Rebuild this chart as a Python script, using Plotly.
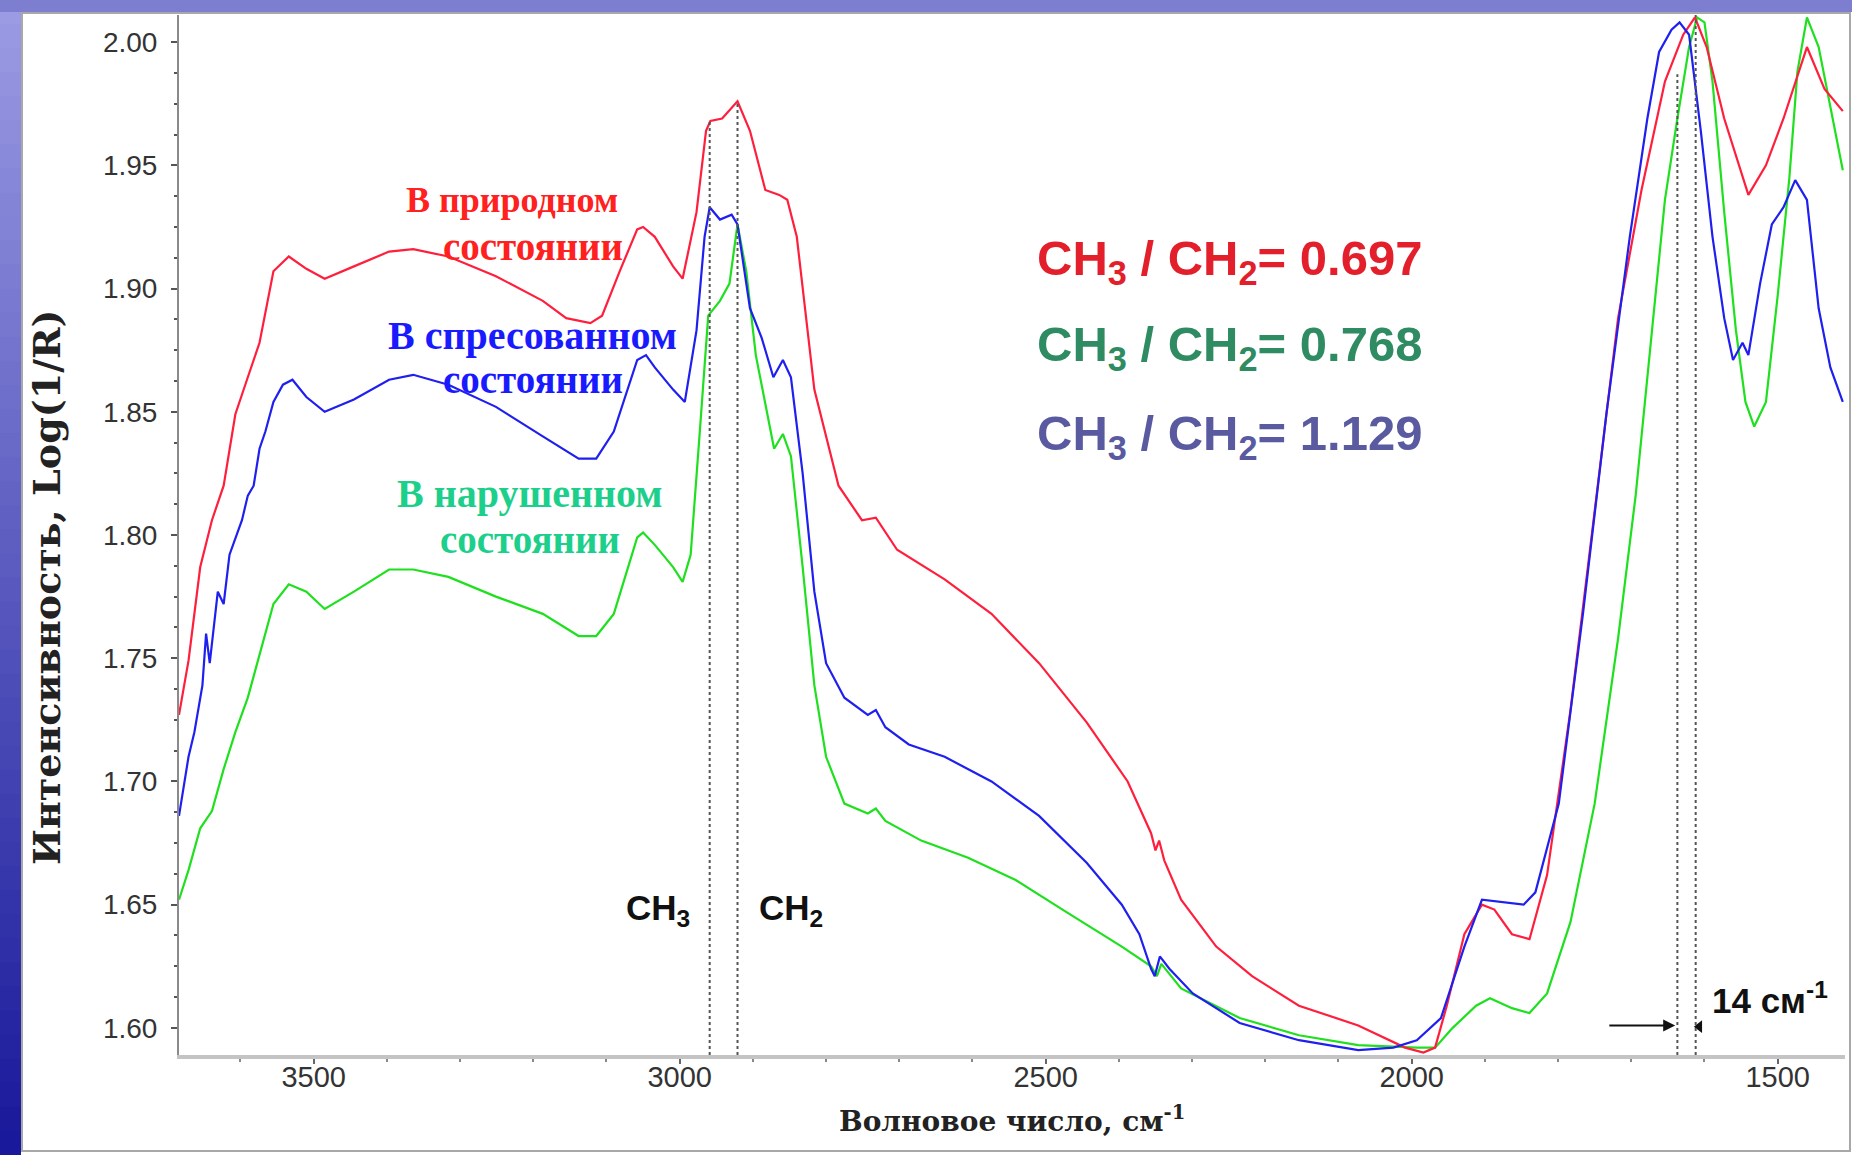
import plotly.graph_objects as go

# ---------------- data ----------------
red_wn = [3684, 3671, 3655, 3639, 3623, 3607, 3590, 3574, 3555, 3534, 3510, 3485, 3445, 3397, 3364,
          3316, 3251, 3187, 3155, 3122, 3106, 3082, 3058, 3050, 3034, 3009, 2996, 2977, 2964, 2958,
          2942, 2921, 2904, 2883, 2864, 2853, 2840, 2816, 2783, 2751, 2732, 2719, 2703, 2638, 2574,
          2509, 2444, 2388, 2356, 2350, 2345, 2338, 2315, 2267, 2218, 2154, 2073, 2009, 1984, 1968,
          1952, 1928, 1904, 1887, 1863, 1839, 1815, 1783, 1750, 1718, 1686, 1654, 1629, 1613, 1597,
          1573, 1540, 1516, 1492, 1460, 1436, 1411]
red_int = [1.727, 1.749, 1.787, 1.806, 1.820, 1.849, 1.864, 1.878, 1.907, 1.913, 1.908, 1.904, 1.909, 1.915, 1.916,
           1.913, 1.905, 1.895, 1.888, 1.886, 1.889, 1.907, 1.924, 1.925, 1.921, 1.909, 1.904, 1.931, 1.964, 1.968,
           1.969, 1.976, 1.964, 1.940, 1.938, 1.936, 1.921, 1.859, 1.820, 1.806, 1.807, 1.801, 1.794, 1.782, 1.768,
           1.748, 1.724, 1.700, 1.679, 1.672, 1.676, 1.668, 1.652, 1.633, 1.621, 1.609, 1.601, 1.592, 1.590, 1.592,
           1.609, 1.638, 1.650, 1.648, 1.638, 1.636, 1.662, 1.729, 1.811, 1.888, 1.940, 1.984, 2.003, 2.010, 1.998,
           1.969, 1.938, 1.950, 1.969, 1.998, 1.981, 1.972]

blue_wn = [3684, 3671, 3663, 3652, 3647, 3642, 3631, 3623, 3615, 3598, 3590, 3582, 3574, 3566, 3555,
           3542, 3529, 3510, 3485, 3445, 3397, 3364, 3316, 3251, 3187, 3138, 3114, 3090, 3058, 3046,
           3034, 3009, 2993, 2977, 2966, 2959, 2945, 2929, 2921, 2904, 2888, 2872, 2859, 2848, 2832,
           2816, 2800, 2775, 2743, 2732, 2719, 2687, 2638, 2574, 2509, 2444, 2396, 2372, 2356, 2351,
           2344, 2331, 2299, 2235, 2154, 2073, 2025, 1993, 1960, 1928, 1904, 1879, 1847, 1831, 1799,
           1766, 1734, 1702, 1678, 1662, 1645, 1634, 1621, 1605, 1589, 1573, 1561, 1548, 1540, 1524,
           1508, 1492, 1476, 1460, 1444, 1428, 1411]
blue_int = [1.686, 1.710, 1.720, 1.739, 1.760, 1.748, 1.777, 1.772, 1.792, 1.806, 1.816, 1.820, 1.835, 1.842, 1.854,
            1.861, 1.863, 1.856, 1.850, 1.855, 1.863, 1.865, 1.861, 1.852, 1.840, 1.831, 1.831, 1.842, 1.871, 1.873,
            1.868, 1.859, 1.854, 1.883, 1.921, 1.933, 1.928, 1.930, 1.926, 1.892, 1.880, 1.864, 1.871, 1.864, 1.825,
            1.777, 1.748, 1.734, 1.727, 1.729, 1.722, 1.715, 1.710, 1.700, 1.686, 1.667, 1.650, 1.638, 1.624, 1.621,
            1.629, 1.624, 1.614, 1.602, 1.595, 1.591, 1.592, 1.595, 1.604, 1.633, 1.652, 1.651, 1.650, 1.655, 1.691,
            1.768, 1.849, 1.921, 1.969, 1.996, 2.005, 2.008, 2.003, 1.964, 1.921, 1.888, 1.871, 1.878, 1.873, 1.902,
            1.926, 1.933, 1.944, 1.936, 1.892, 1.868, 1.854]

green_wn = [3684, 3671, 3655, 3639, 3623, 3607, 3590, 3574, 3555, 3534, 3510, 3485, 3445, 3397, 3364,
            3316, 3251, 3187, 3138, 3114, 3090, 3058, 3050, 3034, 3009, 2996, 2985, 2972, 2961, 2945,
            2932, 2921, 2909, 2896, 2880, 2871, 2859, 2848, 2832, 2816, 2800, 2775, 2743, 2732, 2719,
            2670, 2606, 2541, 2477, 2396, 2356, 2348, 2342, 2315, 2235, 2154, 2073, 1993, 1968, 1944,
            1912, 1893, 1863, 1839, 1815, 1783, 1750, 1718, 1694, 1670, 1654, 1637, 1621, 1610, 1600,
            1589, 1573, 1557, 1544, 1532, 1516, 1500, 1484, 1473, 1460, 1444, 1428, 1411]
green_int = [1.652, 1.664, 1.681, 1.688, 1.705, 1.720, 1.734, 1.751, 1.772, 1.780, 1.777, 1.770, 1.777, 1.786, 1.786,
             1.783, 1.775, 1.768, 1.759, 1.759, 1.768, 1.799, 1.801, 1.796, 1.787, 1.781, 1.792, 1.844, 1.889, 1.895,
             1.902, 1.926, 1.907, 1.873, 1.849, 1.835, 1.841, 1.832, 1.787, 1.739, 1.710, 1.691, 1.687, 1.689, 1.684,
             1.676, 1.669, 1.660, 1.648, 1.633, 1.625, 1.621, 1.626, 1.616, 1.604, 1.597, 1.593, 1.592, 1.592, 1.600,
             1.609, 1.612, 1.608, 1.606, 1.614, 1.643, 1.691, 1.758, 1.816, 1.888, 1.936, 1.969, 1.998, 2.010, 2.008,
             1.984, 1.931, 1.883, 1.854, 1.844, 1.854, 1.897, 1.945, 1.988, 2.010, 1.998, 1.974, 1.948]

y_ticks = [1.60, 1.65, 1.70, 1.75, 1.80, 1.85, 1.90, 1.95, 2.00]
x_ticks = [3500, 3000, 2500, 2000, 1500]

ratio_labels = ["CH<sub>3</sub> / CH<sub>2</sub>= 0.697",
                "CH<sub>3</sub> / CH<sub>2</sub>= 0.768",
                "CH<sub>3</sub> / CH<sub>2</sub>= 1.129"]
state_labels = [("В природном", "состоянии"),
                ("В спресованном", "состоянии"),
                ("В нарушенном", "состоянии")]

# band markers (wavenumbers) and their top intensities
CH3_WN, CH3_TOP = 2959, 1.968
CH2_WN, CH2_TOP = 2921, 1.976
SHIFT_WN = [1637, 1612]
SHIFT_TOP = [1.987, 2.011]

# ---------------- layout constants ----------------
W, H = 1852, 1155
ML, MR, MT, MB = 179, 7, 15, 100
PW, PH = W - ML - MR, H - MT - MB
X_RANGE = [3684, 1408]
Y_RANGE = [1.589, 2.011]

def px(x):
    return (x - ML) / PW

def py(y):
    return (H - MB - y) / PH

C_RED, C_BLUE, C_GREEN = "#ff1f3d", "#1f1ff0", "#1fe01f"

fig = go.Figure()
for wn, it, col in [(green_wn, green_int, C_GREEN), (red_wn, red_int, C_RED), (blue_wn, blue_int, C_BLUE)]:
    fig.add_trace(go.Scatter(x=wn, y=it, mode="lines", line=dict(color=col, width=2.2),
                             hoverinfo="skip", showlegend=False))

shapes = []
# slide background strips (gradient bands on the left, lavender strip on top)
n = 48
c0, c1 = (155, 155, 228), (25, 25, 155)
for i in range(n):
    t = i / (n - 1)
    c = tuple(int(c0[k] + (c1[k] - c0[k]) * t) for k in range(3))
    shapes.append(dict(type="rect", xref="paper", yref="paper", layer="below",
                       x0=px(0), x1=px(21), y0=py(H * i / n), y1=py(H * (i + 1) / n + 1),
                       fillcolor="rgb(%d,%d,%d)" % c, line=dict(width=0)))
shapes.append(dict(type="rect", xref="paper", yref="paper", layer="below",
                   x0=px(0), x1=px(W), y0=py(0), y1=py(12),
                   fillcolor="#7d7ecf", line=dict(width=0)))
# white panel border
shapes.append(dict(type="rect", xref="paper", yref="paper", layer="below",
                   x0=px(22), x1=px(W - 2), y0=py(13), y1=py(H - 4),
                   fillcolor="rgba(0,0,0,0)", line=dict(color="#a8a8a8", width=2)))

# dotted band lines
for wn, top in [(CH3_WN, CH3_TOP), (CH2_WN, CH2_TOP)] + list(zip(SHIFT_WN, SHIFT_TOP)):
    shapes.append(dict(type="line", xref="x", yref="y", x0=wn, x1=wn, y0=Y_RANGE[0], y1=top,
                       line=dict(color="#555555", width=2, dash="dot")))

ann = []
SERIF = "Liberation Serif, Times New Roman, serif"
WSERIF = "DejaVu Serif, serif"
SANS = "Liberation Sans, Arial, sans-serif"

state_pos = [((3229, 1.936), (3201, 1.917)), ((3201, 1.881), (3200, 1.863)), ((3205, 1.817), (3205, 1.798))]
state_cols = ["#ff2020", "#1a1aff", "#1ccf8a"]
state_sizes = [36, 40, 40]
for (l1, l2), (p1, p2), col, sz in zip(state_labels, state_pos, state_cols, state_sizes):
    for txt, (xx, yy), s in [(l1, p1, sz), (l2, p2, 39)]:
        ann.append(dict(x=xx, y=yy, xref="x", yref="y", text="<b>%s</b>" % txt, showarrow=False,
                        font=dict(family=SERIF, size=s, color=col), xanchor="center", yanchor="middle"))

ratio_cols = ["#e21f2b", "#2f8b62", "#5a5aa0"]
for txt, yy, col in zip(ratio_labels, [1.911, 1.876, 1.840], ratio_cols):
    ann.append(dict(x=2514, y=yy, xref="x", yref="y", text="<b>%s</b>" % txt, showarrow=False,
                    font=dict(family=SANS, size=49, color=col), xanchor="left", yanchor="middle"))

ann.append(dict(x=3030, y=1.648, xref="x", yref="y", text="<b>CH<sub>3</sub></b>", showarrow=False,
                font=dict(family=SANS, size=35, color="#111"), xanchor="center", yanchor="middle"))
ann.append(dict(x=2848, y=1.648, xref="x", yref="y", text="<b>CH<sub>2</sub></b>", showarrow=False,
                font=dict(family=SANS, size=35, color="#111"), xanchor="center", yanchor="middle"))
ann.append(dict(x=1592, y=1.612, xref="x", yref="y", text="<b>14 см<sup>-1</sup></b>", showarrow=False,
                font=dict(family=SANS, size=35, color="#111"), xanchor="left", yanchor="middle"))
# arrows
ann.append(dict(x=1640, y=1.601, ax=1732, ay=1.601, xref="x", yref="y", axref="x", ayref="y",
                text="", showarrow=True, arrowhead=2, arrowsize=1.2, arrowwidth=2, arrowcolor="#111"))
fig.add_trace(go.Scatter(x=[1607], y=[1.6005], mode="markers",
                         marker=dict(symbol="triangle-left", size=11, color="#111"),
                         hoverinfo="skip", showlegend=False))

# axis titles
ann.append(dict(x=px(46), y=py(587), xref="paper", yref="paper", text="<b>Интенсивность, Log(1/R)</b>",
                showarrow=False, textangle=-90, font=dict(family=WSERIF, size=38, color="#222"),
                xanchor="center", yanchor="middle"))
ann.append(dict(x=px(1012), y=py(1119), xref="paper", yref="paper", text="<b>Волновое число, см<sup>-1</sup></b>",
                showarrow=False, font=dict(family=WSERIF, size=28, color="#222"),
                xanchor="center", yanchor="middle"))

fig.update_layout(
    width=W, height=H, margin=dict(l=ML, r=MR, t=MT, b=MB),
    paper_bgcolor="white", plot_bgcolor="rgba(0,0,0,0)",
    shapes=shapes, annotations=ann, showlegend=False,
)
fig.update_xaxes(range=X_RANGE, tickvals=x_ticks, ticktext=[str(v) for v in x_ticks],
                 showgrid=False, zeroline=False, showline=True, linecolor="#c4c4c4", linewidth=4,
                 ticks="outside", ticklen=5, tickwidth=2, tickcolor="#666",
                 minor=dict(dtick=100, tick0=1500, ticks="outside", ticklen=3, tickcolor="#888", tickwidth=2),
                 tickfont=dict(family=SANS, size=29, color="#333"), ticklabelstandoff=-12)
fig.update_yaxes(range=Y_RANGE, tickvals=y_ticks, ticktext=["%.2f" % v for v in y_ticks],
                 showgrid=False, zeroline=False, showline=True, linecolor="#8a8a8a", linewidth=2,
                 ticks="outside", ticklen=6, tickwidth=2, tickcolor="#555",
                 minor=dict(dtick=0.0125, tick0=1.6, ticks="outside", ticklen=3, tickcolor="#555", tickwidth=2),
                 tickfont=dict(family=SANS, size=28, color="#333"), ticklabelstandoff=8)

fig.write_html("out.html")
